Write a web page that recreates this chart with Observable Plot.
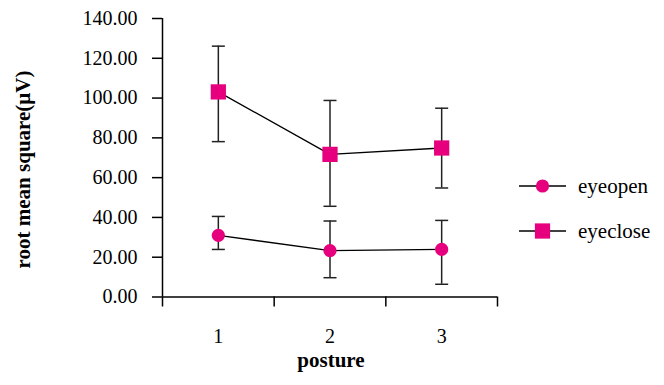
<!DOCTYPE html>
<html>
<head>
<meta charset="utf-8">
<script src="https://cdn.jsdelivr.net/npm/d3@7"></script>
<script src="https://cdn.jsdelivr.net/npm/@observablehq/plot@0.6"></script>
<style>
  html, body { margin: 0; padding: 0; background: #fff; }
  #wrap { position: relative; width: 664px; height: 385px; overflow: hidden; font-family: "Liberation Serif", "Times New Roman", serif; }
  #wrap svg { position: absolute; left: 0; top: 0; }
  #legend { position: absolute; left: 518px; top: 172px; }
  .item { display: flex; align-items: center; height: 28px; margin-bottom: 17px; font-size: 21px; color: #000; }
  .item svg { position: static !important; margin-right: 12px; }
  .title { position: absolute; font-weight: bold; font-size: 21px; line-height: 21px; height: 21px; color: #000; white-space: nowrap; text-align: center; }
  #xtitle { left: 181px; top: 350px; width: 300px; }
  #ytitle { left: -126.6px; top: 158.5px; width: 300px; transform: rotate(-90deg); }
</style>
</head>
<body>
<div id="wrap">
  <div id="legend"></div>
  <div id="xtitle" class="title"></div>
  <div id="ytitle" class="title"></div>
</div>
<script>
// ---- data ----
const postures = [1, 2, 3];
const seriesNames = ["eyeopen", "eyeclose"];
const eyeopenMean = [31.0, 23.3, 23.9];
const eyeopenHigh = [40.5, 38.2, 38.5];
const eyeopenLow  = [23.9, 9.7, 6.4];
const eyecloseMean = [103.1, 71.7, 74.9];
const eyecloseHigh = [126.1, 98.8, 94.9];
const eyecloseLow  = [78.1, 45.6, 54.8];
const yTicks = [0, 20, 40, 60, 80, 100, 120, 140];
const xBoundaries = [0.5, 1.5, 2.5, 3.5];
const xLabel = "posture";
const yLabel = "root mean square(\u03bcV)";

const magenta = "#E6007E";
const radii = {eyeopen: 6.6, eyeclose: 8.6};

const rows = [];
postures.forEach((p, i) => {
  rows.push({posture: p, series: "eyeopen", mean: eyeopenMean[i], hi: eyeopenHigh[i], lo: eyeopenLow[i]});
  rows.push({posture: p, series: "eyeclose", mean: eyecloseMean[i], hi: eyecloseHigh[i], lo: eyecloseLow[i]});
});

// horizontal cap symbol for error bars
const cap = { draw(ctx, size) { const w = Math.sqrt(size / Math.PI); ctx.moveTo(-w, 0); ctx.lineTo(w, 0); } };

const font = '"Liberation Serif", "Times New Roman", serif';

const chart = Plot.plot({
  width: 664,
  height: 385,
  marginLeft: 162,
  marginRight: 167,
  marginTop: 18,
  marginBottom: 88.5,
  style: {fontFamily: font, fontSize: "20px", color: "#000", background: "transparent", overflow: "visible"},
  x: {type: "linear", domain: [0.5, 3.5]},
  y: {domain: [0, 140]},
  marks: [
    Plot.ruleY([0], {stroke: "#000", strokeWidth: 1.5}),
    Plot.ruleX([0.5], {stroke: "#000", strokeWidth: 1.5}),
    Plot.axisY({ticks: yTicks, tickFormat: d3.format(".2f"), tickSize: 10, tickPadding: 15, label: null, stroke: "#000", strokeWidth: 1.5, fontSize: 20, fontFamily: font, fill: "#000"}),
    Plot.axisX({ticks: xBoundaries, tickFormat: () => "", tickSize: 10, label: null, stroke: "#000", strokeWidth: 1.5}),
    Plot.axisX({ticks: postures, tickFormat: d => String(d), tickSize: 0, tickPadding: 32, label: null, fontSize: 20, fontFamily: font, fill: "#000"}),
    // error bars
    Plot.ruleX(rows, {x: "posture", y1: "lo", y2: "hi", stroke: "#222", strokeWidth: 1.5}),
    Plot.dot(rows, {x: "posture", y: "hi", symbol: cap, r: 6.5, stroke: "#222", strokeWidth: 1.5}),
    Plot.dot(rows, {x: "posture", y: "lo", symbol: cap, r: 6.5, stroke: "#222", strokeWidth: 1.5}),
    // lines
    Plot.line(rows, {x: "posture", y: "mean", z: "series", stroke: "#000", strokeWidth: 1.3}),
    // markers
    Plot.dot(rows.filter(d => d.series === "eyeopen"), {x: "posture", y: "mean", symbol: "circle", r: radii.eyeopen, fill: magenta}),
    Plot.dot(rows.filter(d => d.series === "eyeclose"), {x: "posture", y: "mean", symbol: "square", r: radii.eyeclose, fill: magenta})
  ]
});
document.getElementById("wrap").prepend(chart);

document.getElementById("xtitle").textContent = xLabel;
document.getElementById("ytitle").textContent = yLabel;

// legend
const legend = document.getElementById("legend");
seriesNames.forEach(name => {
  const item = document.createElement("div");
  item.className = "item";
  const svg = d3.create("svg").attr("width", 48).attr("height", 28);
  svg.append("line").attr("x1", 1).attr("x2", 48).attr("y1", 14).attr("y2", 14).attr("stroke", "#000").attr("stroke-width", 1.3);
  const r = radii[name];
  const sym = name === "eyeopen" ? d3.symbolCircle : d3.symbolSquare;
  svg.append("path").attr("transform", "translate(24.5,14)").attr("d", d3.symbol(sym, Math.PI * r * r)()).attr("fill", magenta);
  item.appendChild(svg.node());
  const span = document.createElement("span");
  span.textContent = name;
  item.appendChild(span);
  legend.appendChild(item);
});
</script>
</body>
</html>
